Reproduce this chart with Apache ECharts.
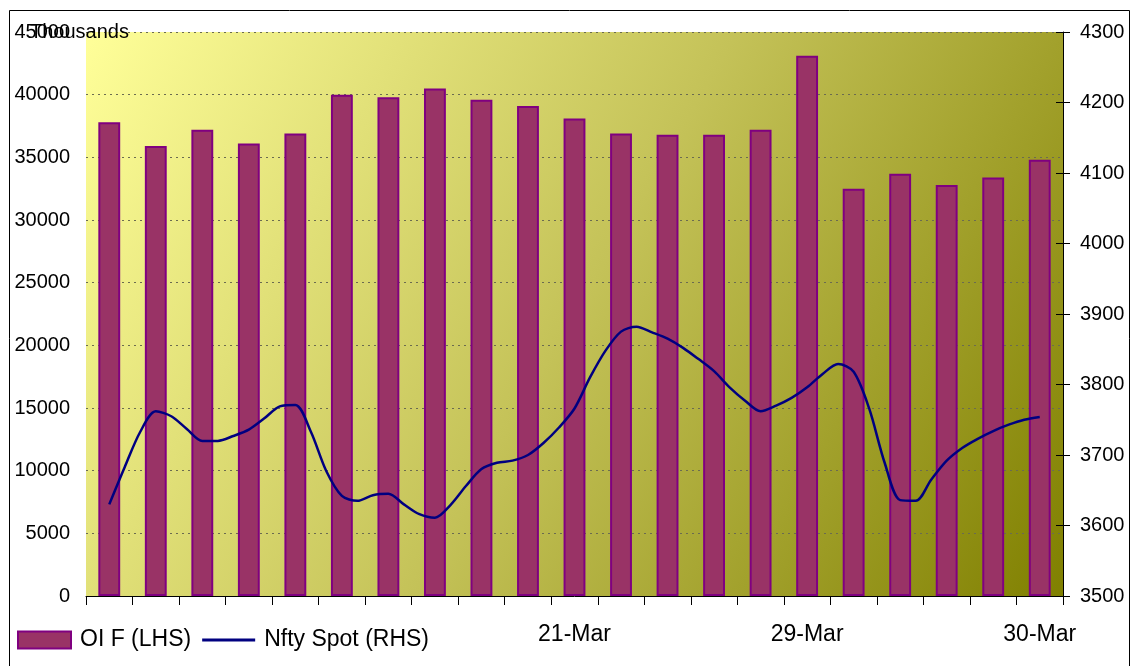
<!DOCTYPE html>
<html>
<head>
<meta charset="utf-8">
<script src="https://cdn.jsdelivr.net/npm/echarts@6/dist/echarts.min.js"></script>
<style>
  html, body { margin: 0; padding: 0; background: #ffffff; }
  #chart { width: 1132px; height: 666px; }
</style>
</head>
<body>
<div id="chart"></div>
<script>
// Category labels along the date axis (only some days carry a label)
const categories = ['', '', '', '', '', '', '', '', '', '', '21-Mar', '', '', '', '', '29-Mar', '', '', '', '', '30-Mar'];

// Open interest in futures, thousands (left axis)
const oifValues = [37800, 35900, 37200, 36100, 36900, 40000, 39800, 40500, 39600, 39100,
                   38100, 36900, 36800, 36800, 37200, 43100, 32500, 33700, 32800, 33400, 34800];

// Nifty spot readings, three per day, first day to last day (right axis)
const spotValues = [3630, 3683, 3733, 3762, 3755, 3737, 3720, 3720, 3727, 3736,
                    3752, 3769, 3771, 3733, 3677, 3642, 3635, 3643, 3645, 3630,
                    3616, 3611, 3629, 3656, 3680, 3689, 3692, 3700, 3717, 3739,
                    3766, 3810, 3848, 3875, 3882, 3874, 3865, 3852, 3836, 3819,
                    3796, 3777, 3762, 3770, 3781, 3796, 3815, 3829, 3818, 3766,
                    3689, 3636, 3635, 3665, 3692, 3710, 3723, 3734, 3743, 3750, 3754];

const leftTicks = { min: 0, max: 45000, interval: 5000 };
const rightTicks = { min: 3500, max: 4300, interval: 100 };

const FONT = '"Liberation Sans", Arial, sans-serif';
const plain = (v) => String(v);

const plot = { left: 86, right: 69, top: 32, bottom: 70 };
const half = (1132 - plot.left - plot.right) / categories.length / 2;

const chart = echarts.init(document.getElementById('chart'), null, { renderer: 'canvas' });

chart.setOption({
  animation: false,
  backgroundColor: '#ffffff',
  textStyle: { fontFamily: FONT, color: '#000' },
  grid: [
    {
      left: plot.left, right: plot.right, top: plot.top, bottom: plot.bottom,
      containLabel: false, outerBoundsMode: 'none',
      show: true, borderWidth: 0,
      backgroundColor: new echarts.graphic.LinearGradient(0, 0, 1, 1, [
        { offset: 0, color: '#ffff99' },
        { offset: 0.5, color: '#c4c258' },
        { offset: 1, color: '#808000' }
      ])
    },
    // the spot line runs from the first day's centre to the last day's centre
    {
      left: plot.left + half, right: plot.right + half, top: plot.top, bottom: plot.bottom,
      containLabel: false, outerBoundsMode: 'none'
    }
  ],
  xAxis: [
    {
      type: 'category', gridIndex: 0, data: categories, boundaryGap: true,
      axisLine: { show: true, lineStyle: { color: '#000', width: 1 } },
      axisTick: { show: true, interval: 0, length: 9, lineStyle: { color: '#000' } },
      axisLabel: { interval: 0, margin: 27, fontSize: 23, fontFamily: FONT, color: '#000' },
      splitLine: { show: false }
    },
    {
      type: 'category', gridIndex: 1, boundaryGap: false, show: false
    }
  ],
  yAxis: [
    {
      type: 'value', gridIndex: 0, position: 'left',
      min: leftTicks.min, max: leftTicks.max, interval: leftTicks.interval,
      axisLine: { show: false }, axisTick: { show: false },
      axisLabel: { margin: 16, fontSize: 20, fontFamily: FONT, color: '#000', formatter: plain },
      splitLine: { show: true, lineStyle: { color: '#6b6b50', type: [2, 4], width: 1 } }
    },
    {
      type: 'value', gridIndex: 0, position: 'right',
      min: rightTicks.min, max: rightTicks.max, interval: rightTicks.interval,
      axisLine: { show: true, lineStyle: { color: '#000', width: 1 } },
      axisTick: { show: true, inside: false, length: 7, lineStyle: { color: '#000' } },
      axisLabel: { margin: 17, fontSize: 20, fontFamily: FONT, color: '#000', formatter: plain },
      splitLine: { show: false }
    },
    {
      type: 'value', gridIndex: 0, position: 'right',
      min: rightTicks.min, max: rightTicks.max, interval: rightTicks.interval,
      axisLine: { show: false },
      axisTick: { show: true, inside: true, length: 7, lineStyle: { color: '#000' } },
      axisLabel: { show: false },
      splitLine: { show: false }
    },
    {
      type: 'value', gridIndex: 1, show: false,
      min: rightTicks.min, max: rightTicks.max, interval: rightTicks.interval,
      splitLine: { show: false }
    }
  ],
  legend: {
    left: 12, top: 622, orient: 'horizontal',
    itemWidth: 53, itemHeight: 17, itemGap: 11,
    textStyle: { fontSize: 23, fontFamily: FONT, color: '#000', padding: [0, 0, 0, 4], lineHeight: 26 },
    data: [
      { name: 'OI F (LHS)', icon: 'rect' },
      {
        name: 'Nfty Spot (RHS)',
        icon: 'path://M0,0 L53,0 L53,3 L0,3 Z',
        itemStyle: { color: '#000080', borderWidth: 0 }
      }
    ]
  },
  series: [
    {
      name: 'OI F (LHS)', type: 'bar', xAxisIndex: 0, yAxisIndex: 0,
      data: oifValues, barWidth: '47%',
      itemStyle: { color: '#993366', borderColor: '#800080', borderWidth: 2 }
    },
    {
      name: 'Nfty Spot (RHS)', type: 'line', xAxisIndex: 1, yAxisIndex: 3,
      data: spotValues, smooth: 0.3, symbol: 'none', showSymbol: false,
      lineStyle: { color: '#000080', width: 2.5 },
      itemStyle: { color: '#000080' }
    }
  ],
  graphic: [
    {
      type: 'rect', silent: true, z: 100,
      shape: { x: 9.5, y: 10.5, width: 1120, height: 670 },
      style: { fill: 'none', stroke: '#000', lineWidth: 1 }
    },
    {
      type: 'text', silent: true, z: 100,
      style: { x: 30, y: 32, text: 'Thousands', font: '20px ' + FONT, fill: '#000', verticalAlign: 'middle' }
    }
  ]
});
</script>
</body>
</html>
